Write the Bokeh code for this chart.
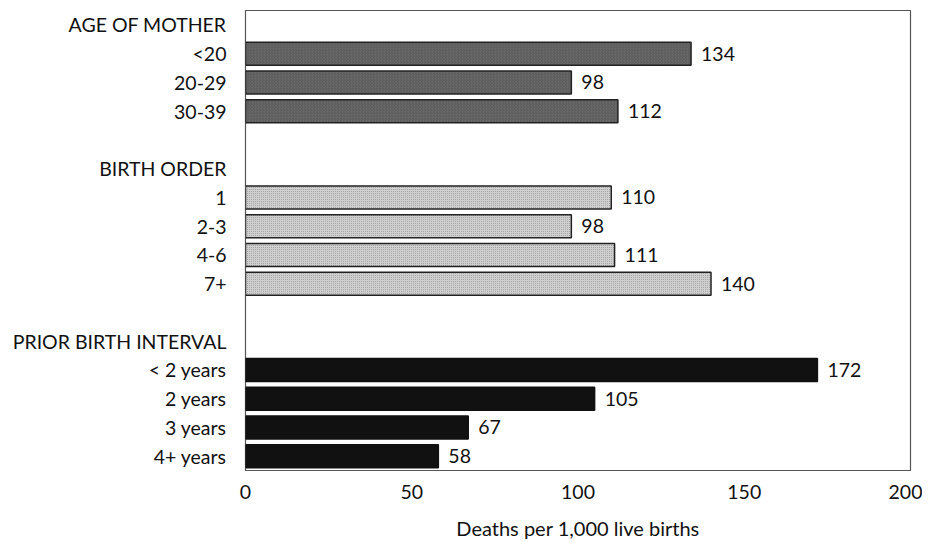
from bokeh.plotting import figure
from bokeh.models import ColumnDataSource, FixedTicker, Range1d
from bokeh.core.properties import value
from bokeh.embed import file_html
from bokeh.resources import INLINE

# Data
age_labels = ["<20", "20-29", "30-39"]
age_values = [134, 98, 112]
order_labels = ["1", "2-3", "4-6", "7+"]
order_values = [110, 98, 111, 140]
interval_labels = ["< 2 years", "2 years", "3 years", "4+ years"]
interval_values = [172, 105, 67, 58]
group_titles = ["AGE OF MOTHER", "BIRTH ORDER", "PRIOR BIRTH INTERVAL"]
x_ticks = [0, 50, 100, 150, 200]
x_title = "Deaths per 1,000 live births"

FONT = "Lato"
FS = "19.5px"

# Row layout: header, bars, blank
rows = []  # (label, value or None, group index)
groups = [(age_labels, age_values), (order_labels, order_values), (interval_labels, interval_values)]
for gi, (labs, vals) in enumerate(groups):
    rows.append((group_titles[gi], None, gi))
    for l, v in zip(labs, vals):
        rows.append((l, v, gi))
    if gi < len(groups) - 1:
        rows.append(("", None, gi))

n = len(rows)
p = figure(width=922, height=542, output_backend="svg", toolbar_location=None,
           x_range=Range1d(0, 200), y_range=Range1d(n - 0.5, -0.5),
           min_border_left=245, min_border_right=12, min_border_top=10, min_border_bottom=72)
p.grid.visible = False
p.outline_line_color = "#555555"
p.outline_line_width = 1.2
p.background_fill_color = "white"
p.border_fill_color = "white"

styles = [
    dict(fill_color="#6a6a6a", hatch_pattern="right_diagonal_line", hatch_color="#505050", hatch_scale=3, hatch_weight=0.6, line_color="#222222"),
    dict(fill_color="#cfcfcf", hatch_pattern="dot", hatch_color="#9a9a9a", hatch_scale=2, hatch_weight=0.6, line_color="#222222"),
    dict(fill_color="#111111", line_color="#111111"),
]

for gi in range(3):
    ys = [i for i, r in enumerate(rows) if r[2] == gi and r[1] is not None]
    vs = [rows[i][1] for i in ys]
    src = ColumnDataSource(dict(y=ys, right=vs, lab=[str(v) for v in vs]))
    p.hbar(y="y", left=0, right="right", height=0.8, source=src, line_width=1.5, **styles[gi])
    p.text(x="right", y="y", text="lab", source=src, x_offset=10,
           text_align="left", text_baseline="middle",
           text_font=value(FONT), text_font_size=FS, text_color="#111111")

# y axis labels
ya = p.yaxis[0]
ya.ticker = FixedTicker(ticks=list(range(n)))
ya.major_label_overrides = {i: r[0] for i, r in enumerate(rows)}
ya.axis_line_color = None
ya.major_tick_line_color = None
ya.minor_tick_line_color = None
ya.major_label_standoff = 13
ya.major_label_text_font = FONT
ya.major_label_text_font_size = FS
ya.major_label_text_color = "#111111"

xa = p.xaxis[0]
xa.ticker = FixedTicker(ticks=x_ticks)
xa.axis_line_color = None
xa.major_tick_line_color = None
xa.minor_tick_line_color = None
xa.major_tick_out = 0
xa.major_label_standoff = 14
xa.major_label_text_font = FONT
xa.major_label_text_font_size = FS
xa.major_label_text_color = "#111111"
xa.axis_label = x_title
xa.axis_label_standoff = 14
xa.axis_label_text_font = FONT
xa.axis_label_text_font_style = "normal"
xa.axis_label_text_font_size = "20px"
xa.axis_label_text_color = "#111111"

open("out.html", "w").write(file_html(p, INLINE))
